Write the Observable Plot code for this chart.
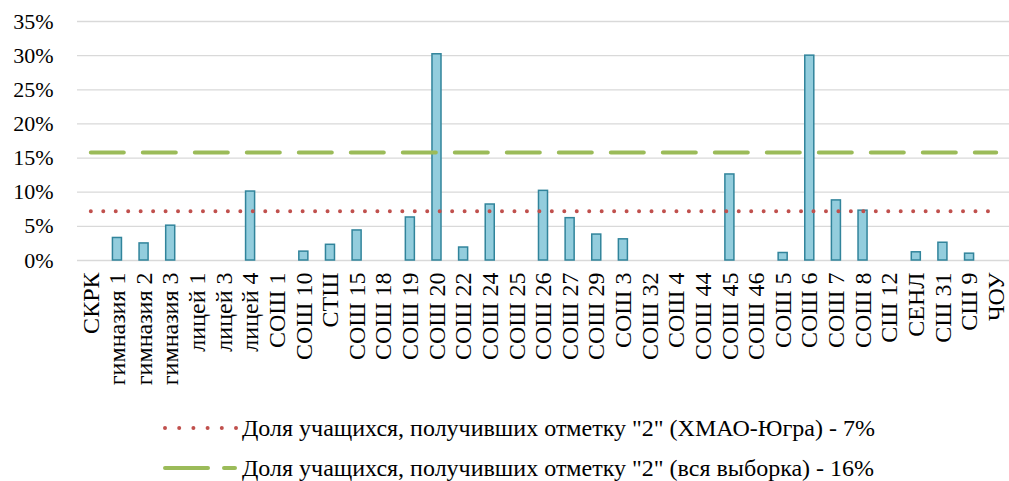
<!DOCTYPE html>
<html>
<head>
<meta charset="utf-8">
<script src="https://cdn.jsdelivr.net/npm/d3@7"></script>
<script src="https://cdn.jsdelivr.net/npm/@observablehq/plot@0.6"></script>
<style>
  html, body { margin: 0; padding: 0; background: #fff; }
  body { width: 1009px; height: 481px; overflow: hidden; font-family: "Liberation Serif", "Noto Serif CJK SC", serif; }
  #legend { margin-left: 161px; margin-top: 3px; }
  .row { display: flex; align-items: center; height: 40px; font-size: 24px; color: #000; line-height: 1; }
  .row svg { flex: none; margin-right: 1px; }
  #chart svg text { font-family: "Liberation Serif", "Noto Serif CJK SC", serif; }
</style>
</head>
<body>
<div id="chart"></div>
<div id="legend"></div>
<script>
const categories = ["СКРК","гимназия 1","гимназия 2","гимназия 3","лицей 1","лицей 3","лицей 4","СОШ 1","СОШ 10","СТШ","СОШ 15","СОШ 18","СОШ 19","СОШ 20","СОШ 22","СОШ 24","СОШ 25","СОШ 26","СОШ 27","СОШ 29","СОШ 3","СОШ 32","СОШ 4","СОШ 44","СОШ 45","СОШ 46","СОШ 5","СОШ 6","СОШ 7","СОШ 8","СШ 12","СЕНЛ","СШ 31","СШ 9","ЧОУ"];
const shares = [0,3.3,2.5,5.1,0,0,10.1,0,1.3,2.3,4.4,0,6.3,30.2,1.9,8.2,0,10.2,6.2,3.8,3.1,0,0,0,12.6,0,1.1,30.0,8.8,7.3,0,1.2,2.6,1.0,0];
const regionShare = 7.2;
const sampleShare = 15.8;
const yTicks = [0,5,10,15,20,25,30,35];
const legendLabels = [
  "Доля учащихся, получивших отметку \"2\" (ХМАО-Югра) - 7%",
  "Доля учащихся, получивших отметку \"2\" (вся выборка) - 16%"
];

const bars = categories.map((c, i) => ({cat: c, v: shares[i] / 100}));
const regionLine = categories.map(c => ({cat: c, v: regionShare / 100}));
const sampleLine = categories.map(c => ({cat: c, v: sampleShare / 100}));

const serif = "'Liberation Serif', 'Noto Serif CJK SC', serif";
const chart = Plot.plot({
  width: 1009,
  height: 405,
  marginLeft: 77,
  marginRight: 0,
  marginTop: 21,
  marginBottom: 145,
  style: {fontFamily: serif, background: "#fff", color: "#000"},
  x: {domain: categories, padding: 0, round: false},
  y: {domain: [0, 0.35]},
  marks: [
    Plot.ruleY(yTicks.map(t => t / 100), {stroke: "#D9D9D9", strokeWidth: 1.3}),
    Plot.barY(bars.filter(d => d.v > 0), {x: "cat", y: "v", fill: "#93CDDD", stroke: "#31849B", strokeWidth: 1.5, insetLeft: 8.8, insetRight: 8.8}),
    Plot.lineY(sampleLine, {x: "cat", y: "v", stroke: "#9BBB59", strokeWidth: 4, strokeDasharray: "33,19", strokeLinecap: "round"}),
    Plot.lineY(regionLine, {x: "cat", y: "v", stroke: "#C0504D", strokeWidth: 4, strokeDasharray: "0,12.46", strokeLinecap: "round"}),
    Plot.axisY({ticks: yTicks.map(t => t / 100), tickFormat: d3.format(".0%"), tickSize: 0, tickPadding: 24, fontSize: 22, label: null}),
    Plot.axisX({tickSize: 0, tickPadding: 12, tickRotate: -90, fontSize: 24, label: null})
  ]
});
document.getElementById("chart").appendChild(chart);

const legend = document.getElementById("legend");
const swatches = [
  `<svg width="80" height="10"><line x1="4" x2="76" y1="5" y2="5" stroke="#C0504D" stroke-width="4" stroke-linecap="round" stroke-dasharray="0,14.2"/></svg>`,
  `<svg width="80" height="10"><line x1="4" x2="74" y1="5" y2="5" stroke="#9BBB59" stroke-width="4" stroke-linecap="round" stroke-dasharray="43,16"/></svg>`
];
legendLabels.forEach((t, i) => {
  const row = document.createElement("div");
  row.className = "row";
  row.innerHTML = swatches[i];
  const span = document.createElement("span");
  span.textContent = t;
  row.appendChild(span);
  legend.appendChild(row);
});
</script>
</body>
</html>
